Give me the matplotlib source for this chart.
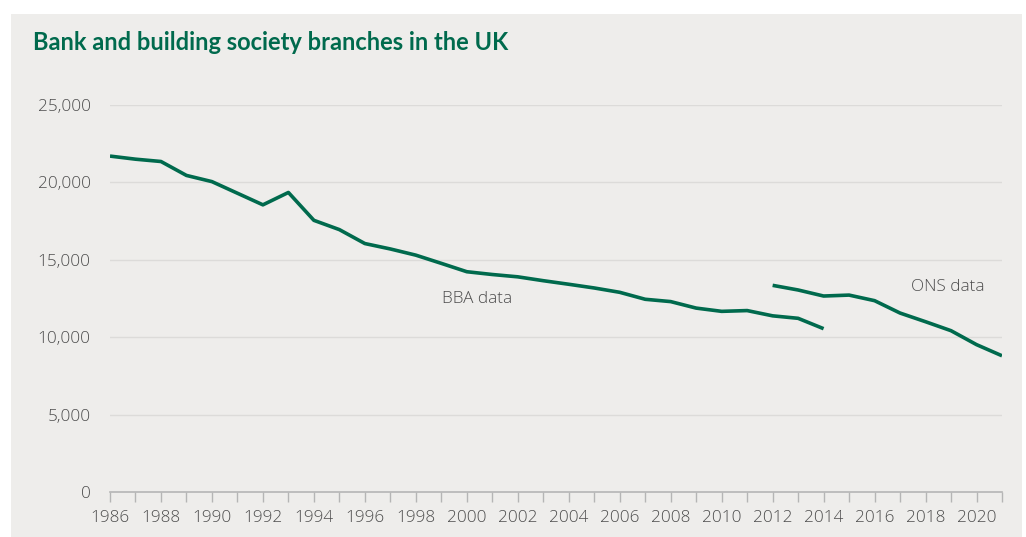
import numpy as np
import matplotlib.pyplot as plt
from matplotlib.patches import Rectangle
from matplotlib.ticker import FuncFormatter, MultipleLocator

# BBA series (1986-2014) and ONS series (2012-2021), number of branches
bba_years = list(range(1986, 2015))
bba_branches = [21700, 21500, 21350, 20450, 20050, 19300, 18550, 19350, 17550,
                16950, 16050, 15700, 15300, 14770, 14230, 14050, 13900, 13650,
                13420, 13180, 12900, 12450, 12300, 11880, 11670, 11720, 11380,
                11220, 10550]
ons_years = list(range(2012, 2022))
ons_branches = [13350, 13050, 12660, 12720, 12360, 11560, 11000, 10420, 9520, 8800]

green = '#006a4d'
grey_text = '#4d4d4d'
bg = '#eeedeb'

plt.rcParams['font.family'] = ['Open Sans', 'DejaVu Sans']

fig = plt.figure(figsize=(10.26, 5.37), dpi=100)
fig.patch.set_facecolor('white')
fig.patches.append(Rectangle((11 / 1026, 0), (1022 - 11) / 1026, 1 - 14 / 537,
                             transform=fig.transFigure, facecolor=bg,
                             edgecolor='none', zorder=-5))

ax = fig.add_axes([110 / 1026, 1 - 492 / 537, (1002 - 110) / 1026, (492 - 105) / 537])
ax.set_facecolor('none')
ax.set_zorder(2)

ax.plot(bba_years, bba_branches, color=green, lw=2.6, solid_capstyle='butt', zorder=3)
ax.plot(ons_years, ons_branches, color=green, lw=2.6, solid_capstyle='butt', zorder=3)

ax.set_xlim(1986, 2021)
ax.set_ylim(0, 25000)
ax.set_xticks(range(1986, 2021, 2))
ax.xaxis.set_minor_locator(MultipleLocator(1))
ax.set_yticks(range(0, 25001, 5000))
ax.yaxis.set_major_formatter(FuncFormatter(lambda v, p: f'{int(v):,}'))

for v in range(5000, 25001, 5000):
    ax.axhline(v, color='#dcdbd9', lw=1, zorder=1)

for s in ['top', 'right', 'left']:
    ax.spines[s].set_visible(False)
ax.spines['bottom'].set_color('#b5b5b5')
ax.spines['bottom'].set_linewidth(1.2)

ax.tick_params(axis='x', which='both', direction='out', length=7, width=1,
               color='#b5b5b5', labelsize=12.3, labelcolor=grey_text, pad=6)
ax.tick_params(axis='y', length=0, labelsize=12.3, labelcolor=grey_text, pad=14)
for lab in ax.get_xticklabels() + ax.get_yticklabels():
    lab.set_fontweight('light')

ax.text(2000.4, 12470, 'BBA data', fontsize=12.3, color=grey_text,
        ha='center', va='center', fontweight='light')
ax.text(2018.88, 13250, 'ONS data', fontsize=12.3, color=grey_text,
        ha='center', va='center', fontweight='light')

fig.text(33 / 1026, 1 - 43 / 537, 'Bank and building society branches in the UK',
         fontsize=17, fontweight='bold', color=green, ha='left', va='center',
         family=['Lato', 'DejaVu Sans'])

fig.savefig('out.png', dpi=100, facecolor=fig.get_facecolor())
